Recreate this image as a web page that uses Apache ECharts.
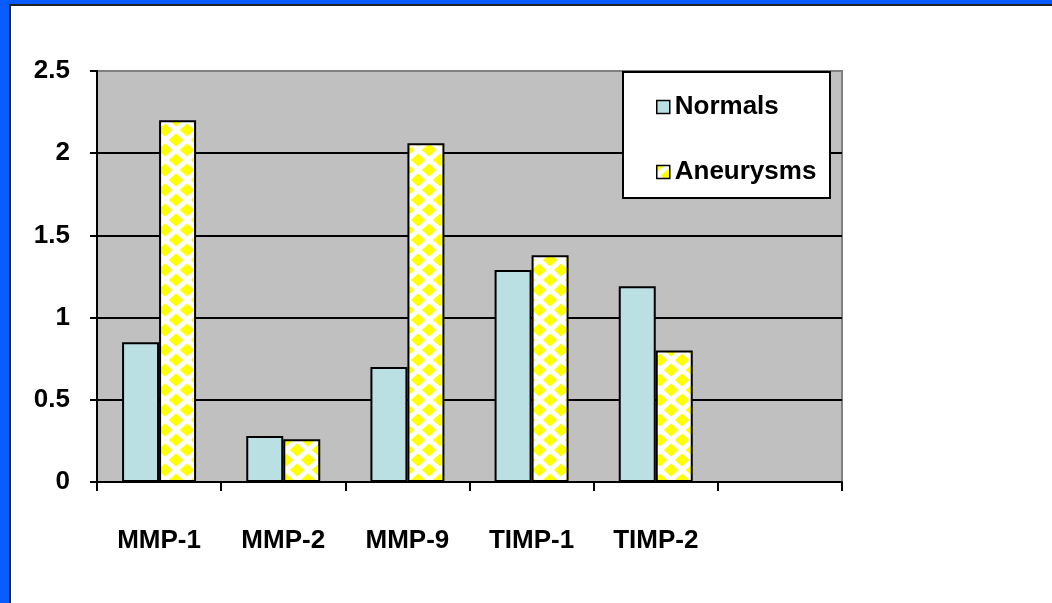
<!DOCTYPE html>
<html>
<head>
<meta charset="utf-8">
<script src="https://cdn.jsdelivr.net/npm/echarts@6/dist/echarts.min.js"></script>
<style>
  html, body { margin: 0; padding: 0; background: #ffffff; }
  #frame { position: absolute; left: 0; top: 0; width: 1052px; height: 603px; background: #0a5cff; }
  #inner { position: absolute; left: 9px; top: 4px; width: 1043px; height: 599px; background: #ffffff;
           border-left: 2px solid #222; border-top: 2px solid #222; box-sizing: border-box; }
  #chart { position: absolute; left: 0; top: 0; width: 1052px; height: 603px; }
</style>
</head>
<body>
<div id="frame"></div>
<div id="inner"></div>
<div id="chart"></div>
<script>
// ---- data ----
const categories = ['MMP-1', 'MMP-2', 'MMP-9', 'TIMP-1', 'TIMP-2', ''];
const normals    = [0.85, 0.28, 0.70, 1.29, 1.19, null];
const aneurysms  = [2.20, 0.26, 2.06, 1.38, 0.80, null];
const seriesNames = ['Normals', 'Aneurysms'];
const yTicks = { min: 0, max: 2.5, interval: 0.5 };

// ---- pattern for aneurysm bars ----
function makePattern() {
  const W = 22, H = 20;
  const c = document.createElement('canvas');
  c.width = W; c.height = H;
  const g = c.getContext('2d');
  g.fillStyle = '#ffffff';
  g.fillRect(0, 0, W, H);
  g.fillStyle = '#ffff00';
  const rx = 7.2, ry = 6.6;
  const centers = [[0,0],[W,0],[0,H],[W,H],[W/2,H/2]];
  centers.forEach(([cx, cy]) => {
    g.beginPath();
    g.moveTo(cx, cy - ry);
    g.lineTo(cx + rx, cy);
    g.lineTo(cx, cy + ry);
    g.lineTo(cx - rx, cy);
    g.closePath();
    g.fill();
  });
  return c;
}

const FONT = '"Liberation Sans", Arial, sans-serif';
const FS = 26;
const chart = echarts.init(document.getElementById('chart'), null, { renderer: 'canvas' });

chart.setOption({
  backgroundColor: 'transparent',
  animation: false,
  grid: {
    left: 97, right: 210, top: 71, bottom: 121,
    show: true, backgroundColor: '#c0c0c0', borderColor: '#808080', borderWidth: 2,
    containLabel: false
  },
  graphic: [{
    type: 'rect', z: 5,
    shape: { x: 623, y: 72, width: 207, height: 126 },
    style: { fill: '#ffffff', stroke: '#000000', lineWidth: 2 }
  }],
  legend: {
    orient: 'vertical',
    left: 656, top: 94,
    padding: 0,
    z: 10,
    itemWidth: 13, itemHeight: 13,
    itemGap: 39,
    icon: 'rect',
    data: seriesNames,
    textStyle: { fontFamily: FONT, fontWeight: 'bold', fontSize: FS, color: '#000', lineHeight: 26 },
    itemStyle: { borderColor: '#000', borderWidth: 1.5 }
  },
  xAxis: {
    type: 'category',
    data: categories,
    axisLine: { show: true, lineStyle: { color: '#000', width: 2 } },
    axisTick: { show: true, length: 9, lineStyle: { color: '#000', width: 2 } },
    axisLabel: { fontFamily: FONT, fontWeight: 'bold', fontSize: FS, color: '#000', margin: 46, interval: 0 },
    splitLine: { show: false }
  },
  yAxis: {
    type: 'value',
    min: yTicks.min, max: yTicks.max, interval: yTicks.interval,
    axisLine: { show: true, lineStyle: { color: '#000', width: 2 } },
    axisTick: { show: true, length: 7, lineStyle: { color: '#000', width: 2 } },
    axisLabel: { fontFamily: FONT, fontWeight: 'bold', fontSize: FS, color: '#000', margin: 27 },
    splitLine: { show: true, showMaxLine: false, lineStyle: { color: '#000', width: 2 } }
  },
  series: [
    {
      name: seriesNames[0], type: 'bar', data: normals,
      barWidth: 37, barGap: '0%',
      itemStyle: { color: '#bbe0e3', borderColor: '#000', borderWidth: 2 }
    },
    {
      name: seriesNames[1], type: 'bar', data: aneurysms,
      barWidth: 37, barGap: '0%',
      itemStyle: { color: { image: makePattern(), repeat: 'repeat' }, borderColor: '#000', borderWidth: 2 }
    }
  ]
});
</script>
</body>
</html>
